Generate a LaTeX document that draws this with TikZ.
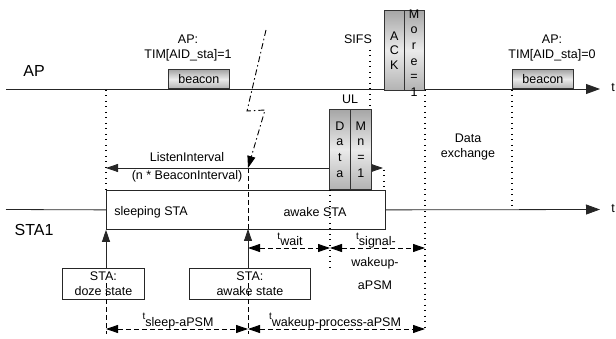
\documentclass[tikz,border=0pt]{standalone}
\usepackage{fontspec}
\setmainfont{Liberation Sans}
\usetikzlibrary{arrows.meta}
\newcommand{\tsub}[1]{\raisebox{6pt}{\fontsize{10}{10}\selectfont t}#1}
\tikzset{mytip/.tip={Triangle[length=12pt,width=8pt]},
         bigtip/.tip={Triangle[length=14pt,width=10pt]}}
\begin{document}
\begin{tikzpicture}[x=1pt,y=-1pt,
  font=\fontsize{12.5}{15}\selectfont,
  every node/.style={inner sep=0pt},
  ln/.style={line width=0.8pt, draw=black!85},
  dotl/.style={line width=1.1pt, dash pattern=on 1pt off 4.5pt},
  dashl/.style={line width=0.9pt, dash pattern=on 5pt off 3pt},
  dashdot/.style={line width=0.9pt, dash pattern=on 6pt off 3pt on 1.5pt off 3pt},
  pkt/.style={draw=black!80, line width=0.8pt, top color=black!35, bottom color=black!30, middle color=black!8, inner sep=0pt},
  plain/.style={draw=black!85, line width=0.8pt, fill=white, inner sep=0pt},
  biglbl/.style={font=\fontsize{16}{16}\selectfont}]
\useasboundingbox (0,0) rectangle (616,339);

% STA state box
\node[plain, minimum width=279pt, minimum height=39pt, anchor=north west] (sta) at (106,190) {};
\node (sleeptxt) at (151,212) {sleeping STA};
\node (awaketxt) at (315,212) {awake STA};

% time lines
\coordinate (apL) at (6,89);
\coordinate (apR) at (600,89);
\coordinate (staL) at (6,209.5);
\coordinate (staR) at (600,209.5);
\draw[ln, -bigtip] (apL) -- (apR);
\draw[ln] (staL) -- (sta.west);
\draw[ln, -bigtip] (sta.east) -- (staR);
\node (tap) at (613,88) {t};
\node (tsta) at (613,209) {t};
\node[biglbl] (aplbl) at (34,71) {AP};
\node[biglbl] (stalbl) at (34,230) {STA1};

% AP texts
\node[align=center] (tim1) at (188,48) {AP:\\TIM[AID\_sta]=1};
\node[align=center] (tim0) at (552,48) {AP:\\TIM[AID\_sta]=0};
\node (sifs) at (358,39) {SIFS};
\node (ul) at (350,99) {UL};
\node[align=center] (dex) at (468,147) {Data\\exchange};

% state boxes
\node[plain, minimum width=82pt, minimum height=31pt, anchor=north west, align=center] (doze) at (62,268) {STA:\\doze state};
\node[plain, minimum width=121pt, minimum height=31pt, anchor=north west, align=center] (awk) at (189,268) {STA:\\awake state};

% named points
\coordinate (x106a) at (106,90);
\coordinate (x106b) at (106,190);
\coordinate (wk) at (248,229);
\coordinate (wktop) at (248,168);
\coordinate (s1) at (370,50);
\coordinate (s2) at (370,109);
\coordinate (r1) at (384,170);
\coordinate (r2) at (384,190);
\coordinate (d1) at (330,190);
\coordinate (d2) at (330,268);
\coordinate (e1) at (425,90);
\coordinate (e2) at (425,332);
\coordinate (f1) at (512,90);
\coordinate (f2) at (512,209);
\coordinate (g1) at (106,283);
\coordinate (g2) at (106,334);
\coordinate (h1) at (248,283);
\coordinate (h2) at (248,334);

% dotted / dashed verticals
\draw[dotl] (x106a) -- (x106b);
\draw[dotl] (s1) -- (s2);
\draw[dotl] (r1) -- (r2);
\draw[dotl] (d1) -- (d2);
\draw[dotl] (e1) -- (e2);
\draw[dotl] (f1) -- (f2);
\draw[dashl] (wktop) -- (wk);
\draw[dashl] (g1) -- (g2);
\draw[dashl] (h1) -- (h2);

% wake-up arrows
\draw[ln, -mytip] (doze.north -| sta.south west) -- (sta.south west);
\draw[ln, -mytip] (awk.north -| wk) -- (wk);

% listen interval
\coordinate (li1) at (106,168);
\coordinate (li2) at (383,168);
\draw[ln, mytip-mytip] (li1) -- (li2);
\node (litxt) at (187,157) {ListenInterval};
\node (bitxt) at (187,176) {(n * BeaconInterval)};

% lightning
\coordinate (l1) at (266,30);
\coordinate (l2) at (247,111);
\coordinate (l3) at (265,110);
\draw[dashdot, -mytip] (l1) -- (l2) -- (l3) -- (wktop);

% packets
\node[pkt, minimum width=61pt, minimum height=19pt, anchor=south west] (b1) at (168,89) {beacon};
\node[pkt, minimum width=61pt, minimum height=19pt, anchor=south west] (b2) at (512,89) {beacon};
\node[pkt, minimum width=21pt, minimum height=80pt, anchor=north west, align=center, font=\fontsize{12.5}{15.6}\selectfont] (data) at (329,109) {D\\a\\t\\a};
\node[pkt, minimum width=21pt, minimum height=80pt, anchor=north west, align=center, font=\fontsize{12.5}{15.6}\selectfont] (mn) at (350,109) {M\\n\\=\\1};
\node[pkt, minimum width=20pt, minimum height=80pt, anchor=north west, align=center, font=\fontsize{12.5}{14.5}\selectfont] (ack) at (384,10) {A\\C\\K};
\node[pkt, minimum width=20pt, minimum height=80pt, anchor=north west] (more) at (404,10) {};
\node[align=center, font=\fontsize{12.5}{15.7}\selectfont] (moretxt) at (414,53) {M\\o\\r\\e\\=\\1};

% durations
\coordinate (w1) at (248,248);
\coordinate (w2) at (330,248);
\coordinate (w3) at (425,248);
\coordinate (p1) at (106,329);
\coordinate (p2) at (248,329);
\coordinate (p3) at (425,329);
\draw[dashl, mytip-mytip] (w1) -- (w2);
\draw[dashl, mytip-mytip] (w2) -- (w3);
\draw[dashl, mytip-mytip] (p1) -- (p2);
\draw[dashl, mytip-mytip] (p2) -- (p3);
\node[anchor=base] (twait) at (290,246) {\tsub{wait}};
\node[anchor=base] (tsig) at (376,246) {\tsub{signal-}};
\node (twk) at (375,263) {wakeup-};
\node (tap2) at (375,285) {aPSM};
\node[anchor=base] (tsleep) at (178,326) {\tsub{sleep-aPSM}};
\node[anchor=base] (tproc) at (335,326) {\tsub{wakeup-process-aPSM}};
\end{tikzpicture}
\end{document}
